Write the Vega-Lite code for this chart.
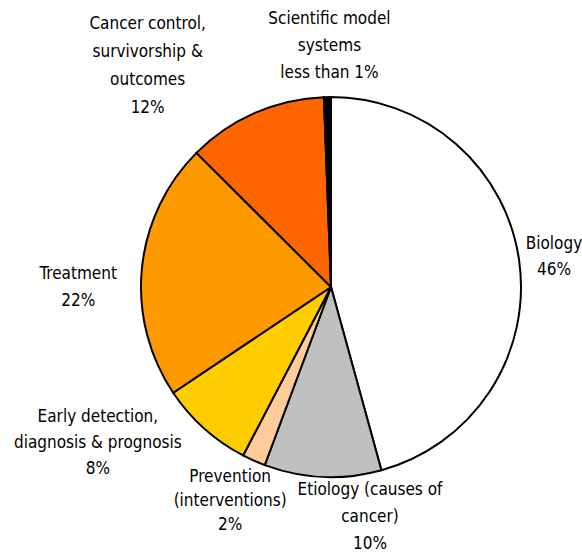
{
  "$schema": "https://vega.github.io/schema/vega-lite/v6.json",
  "width": 502,
  "height": 530,
  "autosize": "none",
  "padding": {"left": 80, "top": 22, "right": 0, "bottom": 0},
  "background": "white",
  "view": {"stroke": null},
  "config": {"text": {"font": "Arial Narrow, Liberation Sans Narrow, DejaVu Sans Condensed, Liberation Sans", "fontSize": 17, "color": "black", "align": "center", "baseline": "middle", "lineBreak": "\n"}},
  "data": {
    "values": [
      {"idx": 1, "category": "Biology", "value": 46, "label": "Biology\n46%"},
      {"idx": 2, "category": "Etiology", "value": 10, "label": "Etiology (causes of\ncancer)\n10%"},
      {"idx": 3, "category": "Prevention", "value": 2, "label": "Prevention\n(interventions)\n2%"},
      {"idx": 4, "category": "Early detection", "value": 8, "label": "Early detection,\ndiagnosis & prognosis\n8%"},
      {"idx": 5, "category": "Treatment", "value": 22, "label": "Treatment\n22%"},
      {"idx": 6, "category": "Cancer control", "value": 12, "label": "Cancer control,\nsurvivorship &\noutcomes\n12%"},
      {"idx": 7, "category": "Scientific model systems", "value": 0.6, "label": "Scientific model\nsystems\nless than 1%"}
    ]
  },
  "encoding": {
    "theta": {"field": "value", "type": "quantitative", "stack": true},
    "order": {"field": "idx", "type": "quantitative"}
  },
  "layer": [
    {
      "mark": {"type": "arc", "radius": 190, "stroke": "black", "strokeWidth": 2},
      "encoding": {
        "color": {
          "field": "category",
          "type": "nominal",
          "legend": null,
          "scale": {
            "domain": ["Biology", "Etiology", "Prevention", "Early detection", "Treatment", "Cancer control", "Scientific model systems"],
            "range": ["#FFFFFF", "#C0C0C0", "#FFCC99", "#FFCC00", "#FF9900", "#FF6600", "#000000"]
          }
        }
      }
    },
    {
      "mark": {"type": "text", "radius": 225, "dy": -13, "lineHeight": 26},
      "encoding": {"text": {"condition": {"test": "datum.category === 'Biology'", "field": "label"}, "value": ""}}
    },
    {
      "mark": {"type": "text", "radius": 229, "dx": 49, "dy": -26, "lineHeight": 27},
      "encoding": {"text": {"condition": {"test": "datum.category === 'Etiology'", "field": "label"}, "value": ""}}
    },
    {
      "mark": {"type": "text", "radius": 231, "dx": -7, "dy": -21, "lineHeight": 24},
      "encoding": {"text": {"condition": {"test": "datum.category === 'Prevention'", "field": "label"}, "value": ""}}
    },
    {
      "mark": {"type": "text", "radius": 207, "dx": -95, "dy": -24, "lineHeight": 26},
      "encoding": {"text": {"condition": {"test": "datum.category === 'Early detection'", "field": "label"}, "value": ""}}
    },
    {
      "mark": {"type": "text", "radius": 254, "dy": 12, "lineHeight": 27},
      "encoding": {"text": {"condition": {"test": "datum.category === 'Treatment'", "field": "label"}, "value": ""}}
    },
    {
      "mark": {"type": "text", "radius": 243, "dx": -86, "dy": -40, "lineHeight": 28},
      "encoding": {"text": {"condition": {"test": "datum.category === 'Cancer control'", "field": "label"}, "value": ""}}
    },
    {
      "mark": {"type": "text", "radius": 242, "dx": 3, "dy": -26, "lineHeight": 27},
      "encoding": {"text": {"condition": {"test": "datum.category === 'Scientific model systems'", "field": "label"}, "value": ""}}
    }
  ]
}
